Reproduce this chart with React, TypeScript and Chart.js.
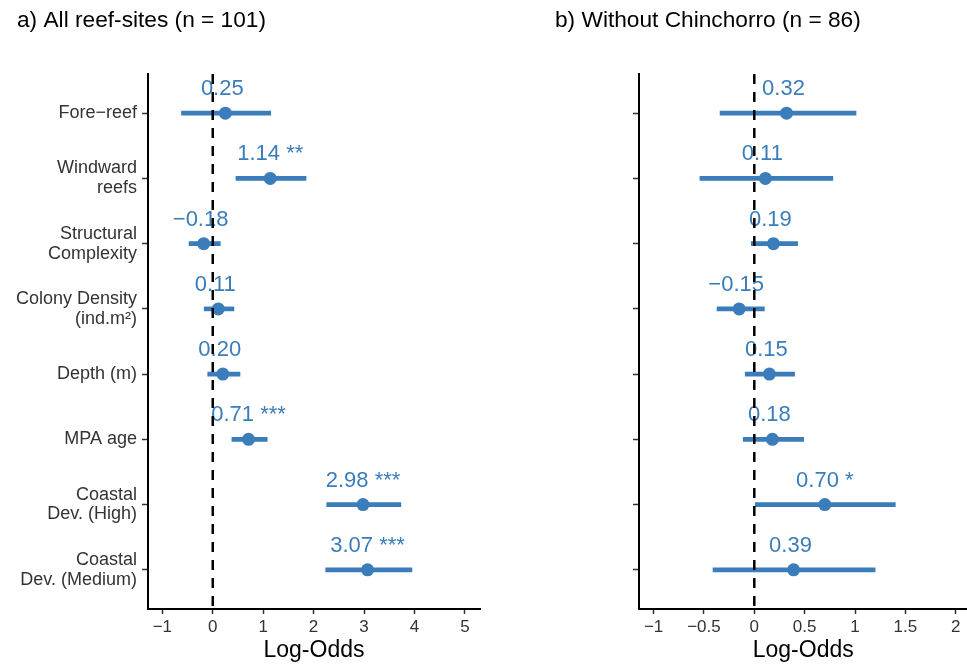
import React, { useEffect, useRef } from 'react';
import { Chart, registerables } from 'chart.js';

Chart.register(...registerables);
Chart.defaults.font.family = "'Liberation Sans', Arial, Helvetica, sans-serif";

// ---- data ----
const rowLabels: string[][] = [
  ['Fore−reef'],
  ['Windward', 'reefs'],
  ['Structural', 'Complexity'],
  ['Colony Density', '(ind.m²)'],
  ['Depth (m)'],
  ['MPA age'],
  ['Coastal', 'Dev. (High)'],
  ['Coastal', 'Dev. (Medium)'],
];

const allEst = [0.25, 1.14, -0.18, 0.11, 0.2, 0.71, 2.98, 3.07];
const allLow = [-0.62, 0.46, -0.47, -0.17, -0.1, 0.38, 2.26, 2.24];
const allHigh = [1.15, 1.85, 0.15, 0.42, 0.54, 1.08, 3.73, 3.95];
const allStars = ['', '**', '', '', '', '***', '***', '***'];

const subEst = [0.32, 0.11, 0.19, -0.15, 0.15, 0.18, 0.7, 0.39];
const subLow = [-0.34, -0.54, -0.03, -0.37, -0.09, -0.11, 0.01, -0.41];
const subHigh = [1.01, 0.78, 0.43, 0.1, 0.4, 0.49, 1.4, 1.2];
const subStars = ['', '', '', '', '', '', '*', ''];

const allTicks = [-1, 0, 1, 2, 3, 4, 5];
const subTicks = [-1, -0.5, 0, 0.5, 1, 1.5, 2];

const allTitle = 'a) All reef-sites (n = 101)';
const subTitle = 'b) Without Chinchorro (n = 86)';
const xTitle = 'Log-Odds';

// ---- styles ----
const BLUE = '#3a7dba';
const TICK_COLOR = '#333333';
const Y_MIN = -0.6;
const Y_MAX = 7.6;

const fmtNum = (v: number) => (v < 0 ? '−' : '') + Math.abs(v).toFixed(2);
const fmtTick = (v: number) => (v < 0 ? '−' : '') + String(Math.abs(v));

const estLabelPlugin = {
  id: 'estLabels',
  beforeDatasetsDraw(chart: any, _args: any, opts: any) {
    const { ctx, scales } = chart;
    const xs = scales.x;
    const ys = scales.y;
    ctx.save();
    ctx.font = `22px ${Chart.defaults.font.family}`;
    ctx.fillStyle = BLUE;
    ctx.textAlign = 'center';
    ctx.textBaseline = 'alphabetic';
    (opts.est as number[]).forEach((v, i) => {
      const txt = fmtNum(v) + ' ' + opts.stars[i];
      ctx.fillText(txt, xs.getPixelForValue(v), ys.getPixelForValue(i) - 18);
    });
    ctx.restore();
  },
};

const panelTitlePlugin = {
  id: 'panelTitle',
  afterDraw(chart: any, _args: any, opts: any) {
    const { ctx } = chart;
    ctx.save();
    ctx.font = `22.7px ${Chart.defaults.font.family}`;
    ctx.fillStyle = '#000';
    ctx.textAlign = 'left';
    ctx.textBaseline = 'middle';
    ctx.fillText(opts.text, opts.x, 20.5);
    ctx.restore();
  },
};

type PanelProps = {
  left: number;
  width: number;
  padRight: number;
  yWidth: number;
  titleX: number;
  showLabels: boolean;
  est: number[];
  low: number[];
  high: number[];
  stars: string[];
  ticks: number[];
  xMin: number;
  xMax: number;
  title: string;
};

function Panel(p: PanelProps) {
  const ref = useRef<HTMLCanvasElement | null>(null);
  useEffect(() => {
    if (!ref.current) return;
    const chart = new Chart(ref.current, {
      type: 'bar',
      data: {
        datasets: [
          {
            type: 'line',
            data: [
              { x: 0, y: Y_MIN },
              { x: 0, y: Y_MAX },
            ],
            borderColor: '#000',
            borderWidth: 2.5,
            borderDash: [10, 8],
            pointRadius: 0,
          } as any,
          {
            type: 'scatter',
            data: p.est.map((v, i) => ({ x: v, y: i })),
            backgroundColor: BLUE,
            borderColor: BLUE,
            pointRadius: 6.5,
            pointHoverRadius: 6.5,
            pointBorderWidth: 0,
          } as any,
          {
            type: 'bar',
            indexAxis: 'y',
            data: p.low.map((l, i) => ({ x: [l, p.high[i]], y: i })),
            backgroundColor: BLUE,
            borderWidth: 0,
            barThickness: 4,
          } as any,
        ],
      },
      options: {
        responsive: false,
        animation: false,
        layout: { padding: { left: 0, right: p.padRight, top: 74, bottom: 0 } },
        plugins: {
          legend: { display: false },
          tooltip: { enabled: false },
          title: { display: false },
          estLabels: { est: p.est, stars: p.stars },
          panelTitle: { text: p.title, x: p.titleX },
        } as any,
        scales: {
          x: {
            type: 'linear',
            min: p.xMin,
            max: p.xMax,
            bounds: 'data',
            offset: false,
            afterBuildTicks: (s: any) => {
              s.ticks = p.ticks.map((v) => ({ value: v }));
            },
            afterFit: (s: any) => {
              s.height = 58;
              s.paddingLeft = 0;
              s.paddingRight = 0;
            },
            ticks: {
              callback: (v: any) => fmtTick(Number(v)),
              font: { size: 17 },
              color: TICK_COLOR,
              padding: 3.5,
              maxRotation: 0,
              autoSkip: false,
            },
            grid: {
              drawOnChartArea: false,
              drawTicks: true,
              tickLength: 5,
              tickColor: TICK_COLOR,
              tickWidth: 1.5,
              offset: false,
            },
            border: { display: true, color: '#000', width: 2 },
            title: {
              display: true,
              text: xTitle,
              color: '#000',
              font: { size: 23 },
              padding: { top: 0, bottom: 3 },
            },
          },
          y: {
            type: 'linear',
            min: Y_MIN,
            max: Y_MAX,
            reverse: true,
            bounds: 'data',
            offset: false,
            afterBuildTicks: (s: any) => {
              s.ticks = rowLabels.map((_, i) => ({ value: i }));
            },
            afterFit: (s: any) => {
              s.width = p.yWidth;
              s.paddingTop = 0;
              s.paddingBottom = 0;
            },
            ticks: {
              callback: (v: any) => (p.showLabels ? rowLabels[Number(v)] : ''),
              font: { size: 18, lineHeight: 1.1 },
              color: TICK_COLOR,
              padding: 5,
              autoSkip: false,
            },
            grid: {
              drawOnChartArea: false,
              drawTicks: true,
              tickLength: 6,
              tickColor: TICK_COLOR,
              tickWidth: 1.5,
              offset: false,
            },
            border: { display: true, color: '#000', width: 2 },
          },
        } as any,
      },
      plugins: [estLabelPlugin as any, panelTitlePlugin as any],
    });
    return () => chart.destroy();
  }, []);
  return (
    <canvas
      ref={ref}
      width={p.width}
      height={667}
      style={{ position: 'absolute', left: p.left, top: 0, width: p.width, height: 667 }}
    />
  );
}

export default function App() {
  return (
    <div
      style={{
        position: 'fixed',
        left: 0,
        top: 0,
        width: 967,
        height: 667,
        overflow: 'hidden',
        background: '#fff',
      }}
    >
      <Panel
        left={0}
        width={490}
        padRight={10}
        yWidth={148}
        titleX={17}
        showLabels={true}
        est={allEst}
        low={allLow}
        high={allHigh}
        stars={allStars}
        ticks={allTicks}
        xMin={-1.284}
        xMax={5.3}
        title={allTitle}
      />
      <Panel
        left={490}
        width={484}
        padRight={0}
        yWidth={149}
        titleX={65}
        showLabels={false}
        est={subEst}
        low={subLow}
        high={subHigh}
        stars={subStars}
        ticks={subTicks}
        xMin={-1.145}
        xMax={2.117}
        title={subTitle}
      />
    </div>
  );
}
